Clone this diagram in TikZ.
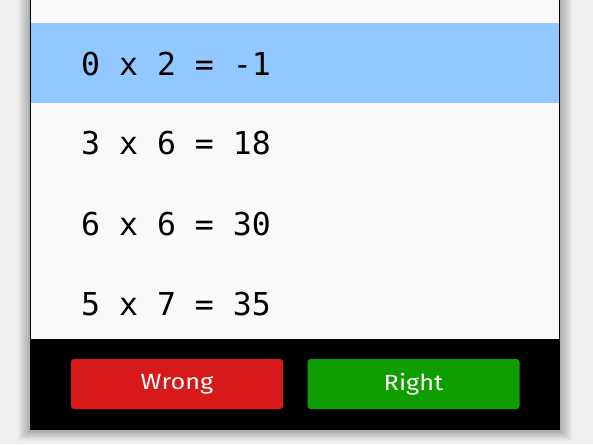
\documentclass[tikz,border=0pt]{standalone}
\usepackage{fontspec}
\newfontfamily\monofont{DejaVu Sans Mono}
\newfontfamily\btnfont[FakeStretch=1.15]{Fira Sans}
\definecolor{bgc}{HTML}{F0F0F0}
\definecolor{panelc}{HTML}{F9F9F9}
\definecolor{hlc}{HTML}{90C8FF}
\definecolor{redc}{HTML}{D81919}
\definecolor{greenc}{HTML}{0E9E00}
\begin{document}
\begin{tikzpicture}[x=1pt,y=-1pt,
  rowtext/.style={anchor=base west,inner sep=0pt,font=\monofont\fontsize{31.5}{36}\selectfont,text=black},
  btn/.style={rounded corners=3pt,minimum width=212pt,minimum height=50pt,inner sep=0pt,text=white,font=\btnfont\fontsize{22}{26}\selectfont}]
\useasboundingbox (0,0) rectangle (593,444);
\fill[bgc] (0,0) rectangle (593,444);
% shadow
\foreach \i in {1,...,12}{
  \fill[black,opacity=0.025] (30-\i,-20) rectangle (560+\i,431+0.8*\i);
}
% panel
\fill[panelc] (30,-5) rectangle (560,339);
\fill[hlc] (31,23) rectangle (559,103);
\fill[black] (30,339) rectangle (560,430);
\draw[black,line width=1.2pt] (30.5,-5) -- (30.5,339);
\draw[black,line width=1.2pt] (559.5,-5) -- (559.5,339);
% rows
\node[rowtext] (r1) at (81,75.5) {0 x 2 = -1};
\node[rowtext] (r2) at (81,154.5) {3 x 6 = 18};
\node[rowtext] (r3) at (81,235) {6 x 6 = 30};
\node[rowtext] (r4) at (81,315) {5 x 7 = 35};
% buttons
\node[btn,fill=redc] (wrong) at (177,384) {Wrong};
\node[btn,fill=greenc] (right) at (413.5,384) {Right};
\end{tikzpicture}
\end{document}
